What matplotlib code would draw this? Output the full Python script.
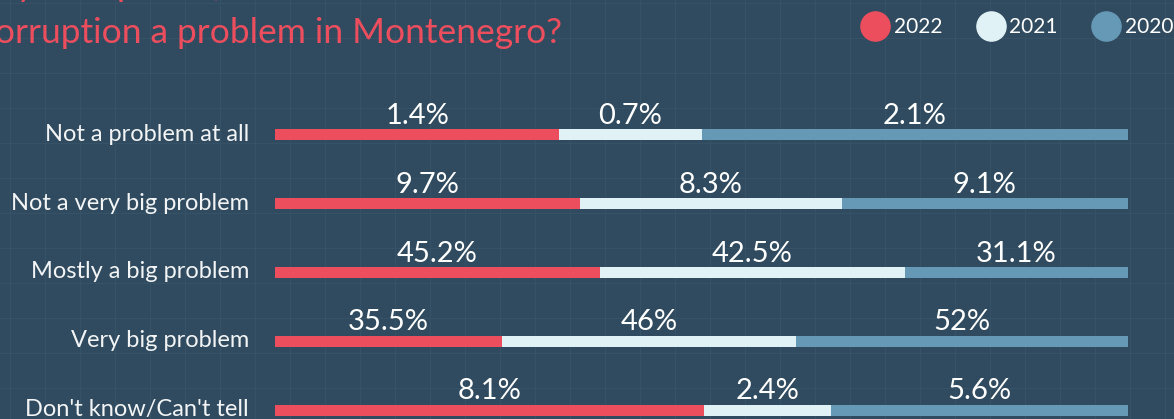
import numpy as np
import matplotlib
matplotlib.use("Agg")
import matplotlib.pyplot as plt
from matplotlib.lines import Line2D

plt.rcParams["font.family"] = ["Lato", "DejaVu Sans"]

# data
categories = ["Not a problem at all", "Not a very big problem", "Mostly a big problem",
              "Very big problem", "Don't know/Can't tell"]
years = ["2022", "2021", "2020"]
v2022 = [1.4, 9.7, 45.2, 35.5, 8.1]
v2021 = [0.7, 8.3, 42.5, 46, 2.4]
v2020 = [2.1, 9.1, 31.1, 52, 5.6]
title_lines = ["In your opinion, is", "corruption a problem in Montenegro?"]

BG = "#304b5f"
GRID = "#365266"
colors = ["#ec4e5e", "#e1f2f6", "#6699b5"]

W, H = 1174, 419
fig = plt.figure(figsize=(W / 100, H / 100), dpi=100, facecolor=BG)

# background grid in pixel coords
bg = fig.add_axes([0, 0, 1, 1], zorder=0)
bg.set_facecolor(BG)
bg.set_xlim(0, W)
bg.set_ylim(H, 0)
bg.set_xticks(np.arange(10, W, 35))
bg.set_yticks(np.arange(3, H, 35))
bg.grid(True, color=GRID, lw=0.8)
bg.tick_params(length=0, labelbottom=False, labelleft=False)
for s in bg.spines.values():
    s.set_visible(False)

# main axes: bars from x=275 to 1128 px, rows at 135 + 68.75*i
x0, x1 = 275, 1128
row0, step = 135, 68.75
top_px = 90
ax = fig.add_axes([x0 / W, 0, (x1 - x0) / W, (H - top_px) / H], zorder=1)
ax.patch.set_alpha(0)
ax.set_xlim(0, 1)
ax.set_ylim((H - row0) / step, (top_px - row0) / step)
ax.axis("off")

series = [v2022, v2021, v2020]
totals = np.sum(series, axis=0)
y = np.arange(len(categories))
left = np.zeros(len(categories))
for vals, c in zip(series, colors):
    frac = np.array(vals) / totals
    ax.barh(y, frac, left=left, height=11 / step, color=c, lw=0)
    for yi, l, f, v in zip(y, left, frac, vals):
        ax.annotate(f"{v:g}%", (l + f / 2, yi), xytext=(0, 11), textcoords="offset pixels",
                    ha="center", va="baseline", color="white", fontsize=21)
    left += frac

for yi, cat in zip(y, categories):
    ax.annotate(cat, (0, yi), xytext=(-26, -6), textcoords="offset pixels",
                ha="right", va="baseline", color="#f2f4f5", fontsize=17,
                annotation_clip=False)

# title (top line cut off as in the source)
bg.text(-22, -4, title_lines[0], color=colors[0], fontsize=25.5, ha="left", va="baseline")
bg.text(-22, 43, title_lines[1], color=colors[0], fontsize=25.5, ha="left", va="baseline")

# legend
handles = [Line2D([], [], marker="o", ls="", markersize=21, color=c) for c in colors]
leg = fig.legend(handles, years, loc="center left", bbox_to_anchor=(865 / W, 1 - 27 / H),
                 ncol=3, frameon=False, fontsize=15, handlelength=1.0,
                 handletextpad=0.4, columnspacing=1.8, borderaxespad=0, borderpad=0)
for t in leg.get_texts():
    t.set_color("white")

fig.savefig("out.png", dpi=100, facecolor=BG)
